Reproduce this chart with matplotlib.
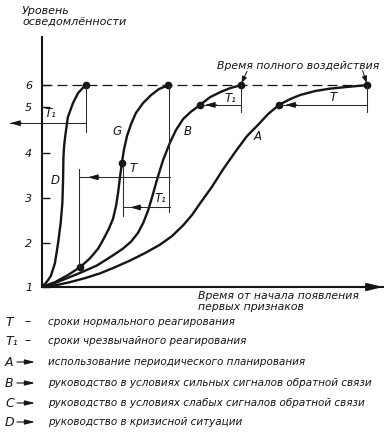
import numpy as np
import matplotlib.pyplot as plt

plt.rcParams['font.family'] = ['DejaVu Sans']
plt.rcParams['font.style'] = 'italic'

INK = '#151515'

# уровни осведомленности (шкала на рисунке неравномерная)
level_ticks = [1, 2, 3, 4, 5, 6]
level_labels = ['1', '2', '3', '4', '5', '6']
scale_levels = [1, 2, 3, 4, 5, 6, 7.5]
scale_pos = [0, 0.98, 1.98, 2.98, 4.0, 4.49, 5.56]

# кривые: время от начала появления признаков / уровень
d_time = [0, 0.12, 0.18, 0.26, 0.38, 0.47, 0.55, 0.60, 0.62, 0.63, 0.65, 0.68, 0.76, 0.91, 1.06, 1.28]
d_level = [1, 1.1, 1.16, 1.25, 1.54, 1.98, 2.45, 2.9, 3.4, 3.9, 4.15, 4.35, 4.78, 5.18, 5.64, 6.0]

g_time = [0, 0.38, 0.76, 1.12, 1.41, 1.65, 1.82, 1.97, 2.09, 2.18, 2.24, 2.29, 2.35,
          2.41, 2.50, 2.62, 2.76, 2.97, 3.21, 3.44, 3.72]
g_level = [1, 1.11, 1.27, 1.45, 1.65, 1.87, 2.1, 2.32, 2.54, 2.83, 3.13, 3.44, 3.78,
           4.07, 4.37, 4.63, 4.87, 5.18, 5.55, 5.82, 6.0]

b_time = [0, 0.38, 0.74, 1.18, 1.62, 2.09, 2.38, 2.62, 2.82, 2.98, 3.12, 3.25, 3.38, 3.56, 3.76,
          3.94, 4.15, 4.38, 4.65, 4.94, 5.24, 5.53, 5.85]
b_level = [1, 1.09, 1.2, 1.34, 1.49, 1.72, 1.87, 2.03, 2.22, 2.45, 2.72, 3.05, 3.4, 3.84, 4.22,
           4.5, 4.74, 4.9, 5.1, 5.45, 5.68, 5.86, 6.0]

a_time = [0, 0.41, 0.82, 1.26, 1.71, 2.15, 2.59, 3.03, 3.47, 3.82, 4.15, 4.41, 4.65,
          5.0, 5.32, 5.68, 6.03, 6.35, 6.65, 6.97, 7.29, 7.59, 8.03, 8.47, 9.06, 9.56]
a_level = [1, 1.04, 1.11, 1.2, 1.31, 1.45, 1.6, 1.77, 1.96, 2.15, 2.39, 2.62, 2.88,
           3.25, 3.63, 4.02, 4.37, 4.61, 4.85, 5.1, 5.36, 5.55, 5.73, 5.84, 5.93, 6.0]

# отмеченные точки
dot_time = [1.28, 1.12, 2.35, 3.72, 4.65, 5.85, 6.97, 9.56]
dot_level = [6.0, 1.45, 3.78, 6.0, 5.1, 6.0, 5.1, 6.0]

legend_keys = ['T', 'T\u2081', 'A', 'B', 'C', 'D']
legend_texts = [
    'сроки нормального реагирования',
    'сроки чрезвычайного реагирования',
    'использование периодического планирования',
    'руководство в условиях сильных сигналов обратной связи',
    'руководство в условиях слабых сигналов обратной связи',
    'руководство в кризисной ситуации',
]


def fwd(v):
    return np.interp(v, scale_levels, scale_pos)


def inv(p):
    return np.interp(p, scale_pos, scale_levels)


fig = plt.figure(figsize=(3.89, 4.4), dpi=100)
ax = fig.add_axes([42 / 389, 153 / 440, 341 / 389, 250 / 440])
ax.set_yscale('function', functions=(fwd, inv))
ax.set_xlim(0, 10.03)
ax.set_ylim(1, 7.5)

for s in ['top', 'right']:
    ax.spines[s].set_visible(False)
for s in ['left', 'bottom']:
    ax.spines[s].set_linewidth(1.5)
    ax.spines[s].set_color(INK)

ax.set_xticks([])
ax.set_yticks(level_ticks)
ax.set_yticklabels(level_labels, fontsize=8, style='italic')
ax.yaxis.set_minor_locator(plt.NullLocator())
ax.tick_params(axis='y', direction='in', length=6, width=1, pad=7, colors=INK)

# стрелка оси времени
ax.annotate('', xy=(10.03, 1), xytext=(9.4, 1), xycoords='data',
            arrowprops=dict(arrowstyle='-|>,head_length=0.9,head_width=0.22',
                            color=INK, lw=1.5, shrinkA=0, shrinkB=0), annotation_clip=False)

# линия полного воздействия
ax.plot([0, 9.65], [6, 6], color=INK, lw=0.9, dashes=(8, 4))

for t, lv in [(a_time, a_level), (b_time, b_level), (g_time, g_level), (d_time, d_level)]:
    ax.plot(t, lv, color=INK, lw=1.7, solid_capstyle='round', solid_joinstyle='round')

ax.plot(dot_time, dot_level, 'o', color=INK, ms=4.5)

thin = dict(color='#2a2a2a', lw=0.75, clip_on=False)


def arrow_head(x, y):
    ax.annotate('', xy=(x, y), xytext=(x + 0.35, y),
                arrowprops=dict(arrowstyle='-|>,head_length=0.6,head_width=0.17',
                                color=INK, lw=0.75, shrinkA=0, shrinkB=0),
                annotation_clip=False)


# D: T1
ax.plot([1.30, 1.30], [6.0, 4.46], **thin)
ax.plot([1.30, -0.94], [4.65, 4.65], **thin)
arrow_head(-0.94, 4.65)
# G: T и T1
ax.plot([1.09, 1.09], [3.64, 1.45], **thin)
ax.plot([3.76, 1.09], [3.46, 3.46], **thin)
arrow_head(1.35, 3.46)
ax.plot([3.75, 3.75], [6.0, 2.68], **thin)
ax.plot([2.38, 2.38], [3.78, 2.61], **thin)
ax.plot([3.77, 2.38], [2.79, 2.79], **thin)
arrow_head(2.59, 2.79)
# B: T1
ax.plot([5.85, 5.85], [6.0, 4.9], **thin)
ax.plot([5.85, 4.65], [5.1, 5.1], **thin)
arrow_head(4.79, 5.1)
# A: T
ax.plot([9.56, 9.56], [6.0, 4.89], **thin)
ax.plot([9.56, 6.97], [5.1, 5.1], **thin)
arrow_head(7.15, 5.1)

lab = dict(fontsize=8.5, color=INK, ha='center', va='center')
ax.text(0.38, 3.39, 'D', **lab)
ax.text(2.2, 4.46, 'G', **lab)
ax.text(4.29, 4.46, 'B', **lab)
ax.text(6.35, 4.37, 'A', **lab)
ax.text(0.25, 4.87, 'T\u2081', **lab)
ax.text(2.68, 3.65, 'T', **lab)
ax.text(3.47, 2.99, 'T\u2081', **lab)
ax.text(5.53, 5.39, 'T\u2081', **lab)
ax.text(8.56, 5.46, 'T', **lab)

ax.text(7.53, 6.59, 'Время полного воздействия', fontsize=7.8, color=INK,
        ha='center', va='center', clip_on=False)
for (x0, y0), (x1, y1) in [((6.03, 6.43), (5.87, 6.06)), ((9.43, 6.45), (9.55, 6.07))]:
    ax.annotate('', xy=(x1, y1), xytext=(x0, y0),
                arrowprops=dict(arrowstyle='-|>,head_length=0.4,head_width=0.15',
                                color=INK, lw=0.7, shrinkA=0, shrinkB=0),
                annotation_clip=False)

fig.text(22 / 389, 1 - 6 / 440, 'Уровень\nосведомлённости', fontsize=8, color=INK,
         ha='left', va='top', linespacing=1.25)
fig.text(198 / 389, 1 - 291 / 440, 'Время от начала появления\nпервых признаков',
         fontsize=7.8, color=INK, ha='left', va='top', linespacing=1.15)

# подписи условных обозначений
rows_y = [322, 341, 362, 383, 403, 422]
for i, (key, txt) in enumerate(zip(legend_keys, legend_texts)):
    y = 440 - rows_y[i]
    fig.text(5 / 389, y / 440, key, fontsize=9, color=INK, ha='left', va='center')
    if i < 2:
        fig.text(24 / 389, y / 440, '\u2013', fontsize=9, color=INK, ha='left', va='center')
    else:
        ax.annotate('', xy=(35, y), xytext=(17, y), xycoords='figure pixels',
                    arrowprops=dict(arrowstyle='-|>,head_length=0.6,head_width=0.15',
                                    color=INK, lw=0.8, shrinkA=0, shrinkB=0),
                    annotation_clip=False)
    fig.text(48 / 389, y / 440, txt, fontsize=7.5, color=INK, ha='left', va='center')

fig.savefig('out.png', dpi=100, facecolor='white')
